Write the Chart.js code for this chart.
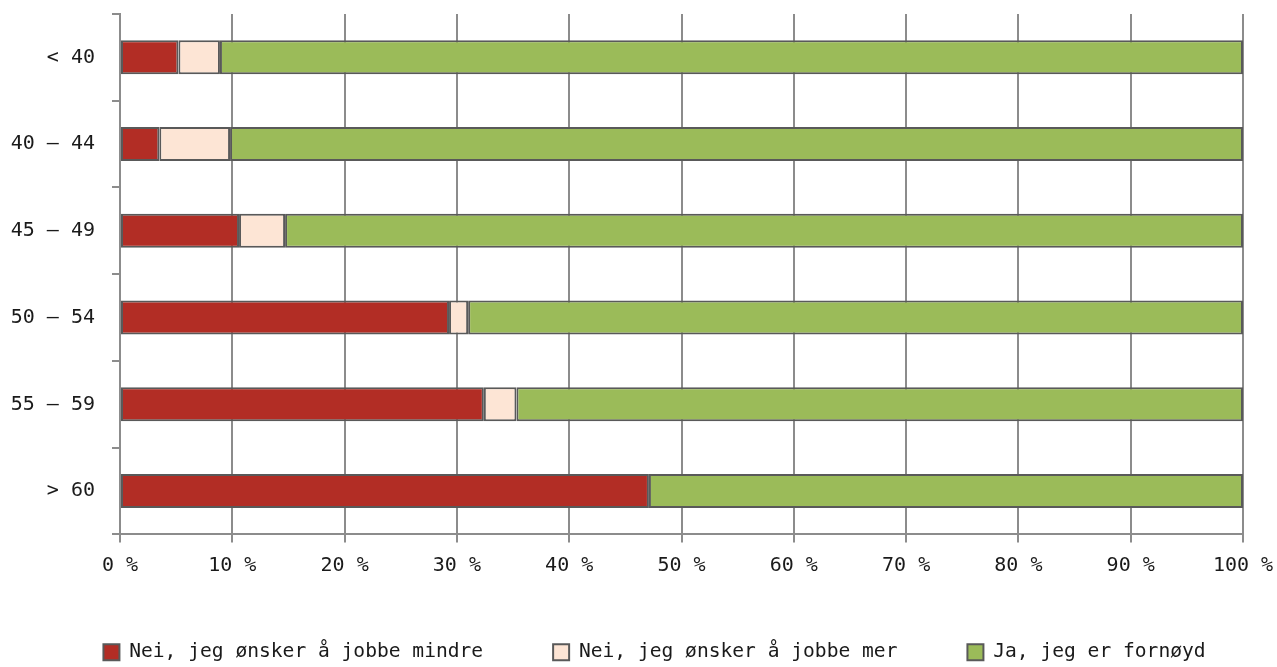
<!DOCTYPE html>
<html lang="no">
<head>
    <meta charset="UTF-8">
    <title>Ønsket arbeidstid etter alder</title>
    <script src="https://cdn.jsdelivr.net/npm/chart.js"></script>
    <style>
        body {
            margin: 0;
            padding: 0;
            background-color: #fff;
            overflow: hidden;
        }
        .container {
            width: 1277px;
            height: 667px;
            overflow: hidden;
        }
    </style>
</head>
<body>
<div class="container">
    <!-- litt høyere enn vinduet; legendens nedre luft faller utenfor -->
    <canvas id="grafikk" width="1277" height="672"></canvas>
</div>

<script>
    // Aldersgrupper og andeler (prosent)
    const aldersgrupper = ['< 40', '40 – 44', '45 – 49', '50 – 54', '55 – 59', '> 60'];
    const mindre = [5.2, 3.5, 10.6, 29.3, 32.4, 47.1];
    const mer = [3.7, 6.3, 4.1, 1.7, 2.9, 0];
    const fornoyd = [91.1, 90.2, 85.3, 69.0, 64.7, 52.9];
    const xTicks = [0, 10, 20, 30, 40, 50, 60, 70, 80, 90, 100];

    const font = 'DejaVu Sans Mono';
    const tekstFarge = '#1a1a1a';
    const kantFarge = '#595959';
    const gridFarge = '#8c8c8c';

    function serie(label, data, farge) {
        return {
            label: label,
            data: data,
            backgroundColor: farge,
            borderColor: kantFarge,
            borderWidth: 2,
            borderSkipped: false,
            barPercentage: 0.392,
            categoryPercentage: 1.0
        };
    }

    // Flytter legenden litt mot høyre, som i originalen
    const flyttLegende = {
        id: 'flyttLegende',
        afterLayout(chart) {
            if (chart.legend) {
                chart.legend.left += 16;
                chart.legend.right += 16;
            }
        }
    };

    const ctx = document.getElementById('grafikk').getContext('2d');
    new Chart(ctx, {
        type: 'bar',
        data: {
            labels: aldersgrupper,
            datasets: [
                serie('Nei, jeg ønsker å jobbe mindre', mindre, '#b22d25'),
                serie('Nei, jeg ønsker å jobbe mer', mer, '#fde5d5'),
                serie('Ja, jeg er fornøyd', fornoyd, '#9bbb59')
            ]
        },
        options: {
            indexAxis: 'y',
            responsive: false,
            animation: false,
            layout: {
                padding: { top: 14, right: 0, bottom: 0, left: 0 }
            },
            scales: {
                x: {
                    stacked: true,
                    min: 0,
                    max: 100,
                    afterBuildTicks: (scale) => {
                        scale.ticks = xTicks.map(v => ({ value: v }));
                    },
                    afterFit: (scale) => {
                        scale.height = 38;
                        scale.paddingLeft = 0;
                        scale.paddingRight = 34;
                    },
                    grid: {
                        color: gridFarge,
                        lineWidth: 2,
                        tickLength: 8
                    },
                    border: { color: gridFarge, width: 2 },
                    ticks: {
                        color: tekstFarge,
                        font: { family: font, size: 20 },
                        padding: 11,
                        maxRotation: 0,
                        callback: (v) => v + ' %'
                    }
                },
                y: {
                    stacked: true,
                    afterFit: (scale) => {
                        scale.width = 120;
                        scale.paddingTop = 0;
                        scale.paddingBottom = 0;
                    },
                    grid: {
                        drawOnChartArea: false,
                        color: gridFarge,
                        lineWidth: 2,
                        tickLength: 8,
                        offset: true
                    },
                    border: { color: gridFarge, width: 2 },
                    ticks: {
                        color: tekstFarge,
                        font: { family: font, size: 20 },
                        padding: 17
                    }
                }
            },
            plugins: {
                legend: {
                    position: 'bottom',
                    labels: {
                        color: tekstFarge,
                        font: { family: font, size: 19.6 },
                        boxWidth: 16,
                        boxHeight: 16,
                        padding: 70,
                        useBorderRadius: false
                    }
                },
                tooltip: { enabled: false }
            }
        },
        plugins: [flyttLegende]
    });
</script>
</body>
</html>
